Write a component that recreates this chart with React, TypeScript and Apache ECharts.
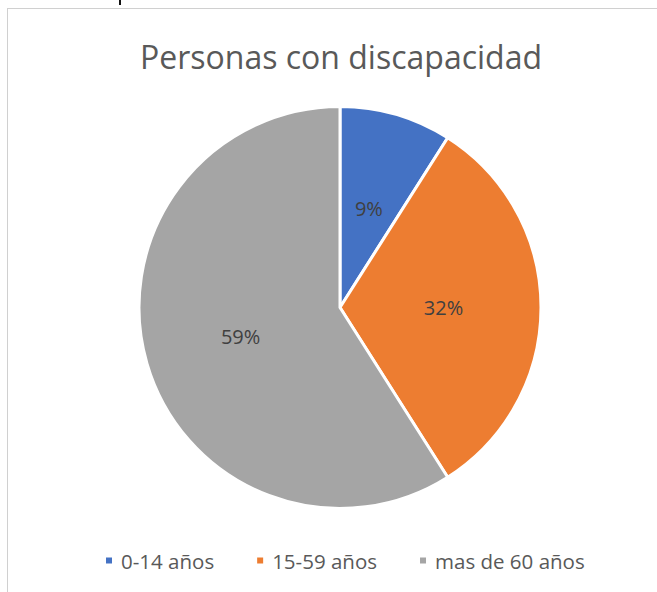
import React, { useEffect, useRef } from "react";
import * as echarts from "echarts";

const categories = ["0-14 años", "15-59 años", "mas de 60 años"];
const values = [9, 32, 59];
const colors = ["#4472C4", "#ED7D31", "#A5A5A5"];
const titleText = "Personas con discapacidad";

export default function App() {
  const ref = useRef<HTMLDivElement>(null);
  useEffect(() => {
    if (!ref.current) return;
    const chart = echarts.init(ref.current, undefined, { renderer: "svg" });
    chart.setOption({
      animation: false,
      backgroundColor: "#ffffff",
      title: {
        text: titleText,
        left: 135,
        top: 35,
        padding: 5,
        textStyle: {
          fontFamily: "Open Sans",
          fontSize: 32,
          fontWeight: "normal",
          color: "#595959",
        },
      },
      legend: {
        data: categories,
        left: 104,
        top: 550,
        padding: 0,
        icon: "rect",
        itemWidth: 8,
        itemHeight: 8,
        itemGap: 41,
        textStyle: {
          fontFamily: "Open Sans",
          fontSize: 20.5,
          color: "#595959",
          padding: [0, 0, 0, 3],
        },
      },
      graphic: [
        { type: "line", shape: { x1: 7, y1: 8.5, x2: 657, y2: 8.5 }, style: { stroke: "#d0d0d0", lineWidth: 1 } },
        { type: "line", shape: { x1: 7.5, y1: 8, x2: 7.5, y2: 592 }, style: { stroke: "#d0d0d0", lineWidth: 1 } },
        { type: "rect", shape: { x: 119, y: 0, width: 2, height: 5 }, style: { fill: "#111" } },
      ],
      series: [
        {
          type: "pie",
          center: [340, 307.5],
          radius: [0, 201],
          startAngle: 90,
          clockwise: true,
          silent: true,
          label: {
            show: true,
            position: "inside",
            formatter: (p: any) => `${Math.round(p.percent)}%`,
            fontFamily: "Open Sans",
            fontSize: 20,
            color: "#404040",
          },
          labelLine: { show: false },
          itemStyle: { borderColor: "#ffffff", borderWidth: 3 },
          data: categories.map((c, i) => ({
            name: c,
            value: values[i],
            itemStyle: { color: colors[i] },
          })),
        },
      ],
    });
    return () => chart.dispose();
  }, []);
  return (
    <div
      ref={ref}
      style={{ position: "absolute", left: 0, top: 0, width: 657, height: 592 }}
    />
  );
}
